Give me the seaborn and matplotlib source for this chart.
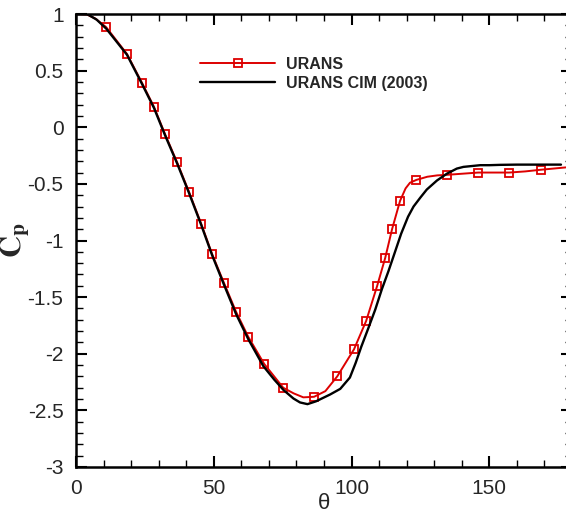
import numpy as np
import pandas as pd
import matplotlib
matplotlib.use("Agg")
import matplotlib.pyplot as plt
import seaborn as sns
from matplotlib.ticker import MultipleLocator, FuncFormatter

# ---- data ----
theta_urans = [0, 4, 7, 10.9, 18.5, 24.0, 28.3, 32.3, 36.7, 41.0, 45.4, 49.4, 53.7,
               58.1, 62.5, 68.3, 75.2, 79, 82.5, 86.4, 90.5, 94.8, 100.9, 105.3,
               109.3, 112.2, 114.7, 117.6, 119.6, 121.2, 123.5, 127.5, 131.1,
               134.7, 146.0, 157.2, 163, 168.8, 178]
cp_urans = [1.0, 0.995, 0.96, 0.885, 0.647, 0.39, 0.18, -0.06, -0.31, -0.57, -0.85,
            -1.12, -1.375, -1.63, -1.85, -2.09, -2.30, -2.35, -2.385, -2.38, -2.33,
            -2.20, -1.96, -1.71, -1.40, -1.155, -0.90, -0.65, -0.54, -0.49, -0.465,
            -0.437, -0.425, -0.42, -0.40, -0.40, -0.39, -0.375, -0.354]
urans_marker_idx = [3, 4, 5, 6, 7, 8, 9, 10, 11, 12, 13, 14, 15, 16, 19, 21, 22, 23,
                    24, 25, 26, 27, 30, 33, 34, 35, 37]

theta_cim = [0, 4, 7.5, 11, 18.5, 24, 28.3, 32.3, 36.7, 41, 45.4, 49.4, 53.7, 58.1,
             62.5, 68, 72, 75.3, 78.9, 81.3, 84, 87.1, 92.2, 95.9, 99.4, 101.5, 103.5,
             106, 108.6, 111, 113.4, 115.5, 118, 120.5, 122.5, 125, 127.3, 131,
             134.6, 138.2, 140.6, 146.7, 150, 154, 160, 176]
cp_cim = [1.0, 1.0, 0.95, 0.87, 0.64, 0.38, 0.17, -0.07, -0.32, -0.58, -0.86, -1.13,
          -1.39, -1.65, -1.87, -2.11, -2.23, -2.32, -2.395, -2.43, -2.445, -2.42, -2.36,
          -2.31, -2.21, -2.08, -1.94, -1.78, -1.61, -1.43, -1.27, -1.12, -0.94,
          -0.79, -0.70, -0.62, -0.55, -0.47, -0.41, -0.365, -0.35, -0.335, -0.335,
          -0.332, -0.33, -0.33]

labels = ["URANS", "URANS CIM (2003)"]
x_ticks = [0, 50, 100, 150]
y_ticks = [1, 0.5, 0, -0.5, -1, -1.5, -2, -2.5, -3]

sns.set_theme(style="ticks")
plt.rcParams["font.family"] = ["Liberation Sans", "DejaVu Sans"]
plt.rcParams["axes.unicode_minus"] = False
plt.rcParams["mathtext.fontset"] = "stix"

red = "#dd0000"
fig = plt.figure(figsize=(5.66, 5.14), dpi=100)
ax = fig.add_axes([76 / 566, 47 / 514, 496 / 566, 453 / 514])

sns.lineplot(x=theta_urans, y=cp_urans, ax=ax, color=red, lw=1.4, sort=False,
             estimator=None, marker="s", markevery=urans_marker_idx,
             markerfacecolor="none", markeredgecolor=red, markersize=5.5,
             markeredgewidth=1.3, label=labels[0])
sns.lineplot(x=theta_cim, y=cp_cim, ax=ax, color="black", lw=1.7, sort=False,
             estimator=None, label=labels[1])

ax.set_xlim(0, 180)
ax.set_ylim(-3, 1)
ax.set_xticks(x_ticks)
ax.set_yticks(y_ticks)
ax.xaxis.set_minor_locator(MultipleLocator(10))
ax.yaxis.set_minor_locator(MultipleLocator(0.1))
ax.yaxis.set_major_formatter(FuncFormatter(lambda v, p: "%g" % v))
ax.xaxis.set_major_formatter(FuncFormatter(lambda v, p: "%g" % v))
ax.tick_params(which="both", direction="in", top=True, right=True, color="black")
ax.tick_params(which="major", length=8, width=1.5, labelsize=15, pad=9)
ax.tick_params(which="minor", length=5, width=1.0)
for s in ax.spines.values():
    s.set_linewidth(1.8)
    s.set_color("black")

ax.set_xlabel("θ", fontsize=16)
ax.xaxis.set_label_coords(0.5, -0.058)
ax.set_ylabel(r"$\mathbf{C_p}$", fontsize=22)
ax.yaxis.set_label_coords(-0.088, 0.5)

leg = ax.legend(loc="upper left", bbox_to_anchor=(0.25, 0.905), frameon=False,
                prop={"weight": "bold", "size": 11.5}, handlelength=4.7,
                handletextpad=0.7, labelspacing=0.25, borderpad=0, borderaxespad=0)

fig.savefig("out.png", dpi=100)
